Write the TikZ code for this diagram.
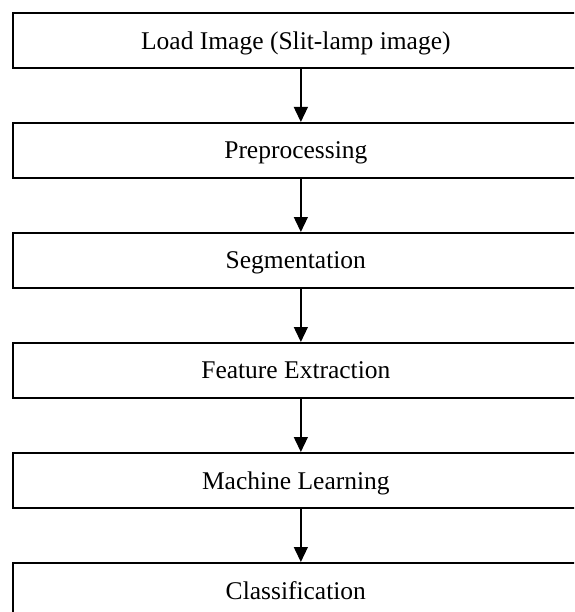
\documentclass[tikz,border=0pt]{standalone}
\usepackage{fontspec}
\setmainfont{Liberation Serif}
\usetikzlibrary{arrows.meta}
\begin{document}
\begin{tikzpicture}[x=1pt,y=1pt,
  stepbox/.style={draw=black, line width=1.7pt, minimum width=566pt, minimum height=55pt, inner sep=0pt, font=\fontsize{25.5}{30}\selectfont, anchor=north west, text depth=0pt},
  flow/.style={line width=1.3pt, -{Triangle[length=15pt,width=14pt]}}]
\useasboundingbox (0,0) rectangle (574,-612);
\clip (0,0) rectangle (574,-612);
\node[stepbox] (b1) at (12,-12) {Load Image (Slit-lamp image)};
\node[stepbox] (b2) at (12,-122) {Preprocessing};
\node[stepbox] (b3) at (12,-232) {Segmentation};
\node[stepbox] (b4) at (12,-342) {Feature Extraction};
\node[stepbox] (b5) at (12,-452) {Machine Learning};
\node[stepbox] (b6) at (12,-562) {Classification};
\foreach \a/\b in {b1/b2,b2/b3,b3/b4,b4/b5,b5/b6}
  \draw[flow] ([xshift=5pt]\a.south) -- ([xshift=5pt]\b.north);
\end{tikzpicture}
\end{document}
